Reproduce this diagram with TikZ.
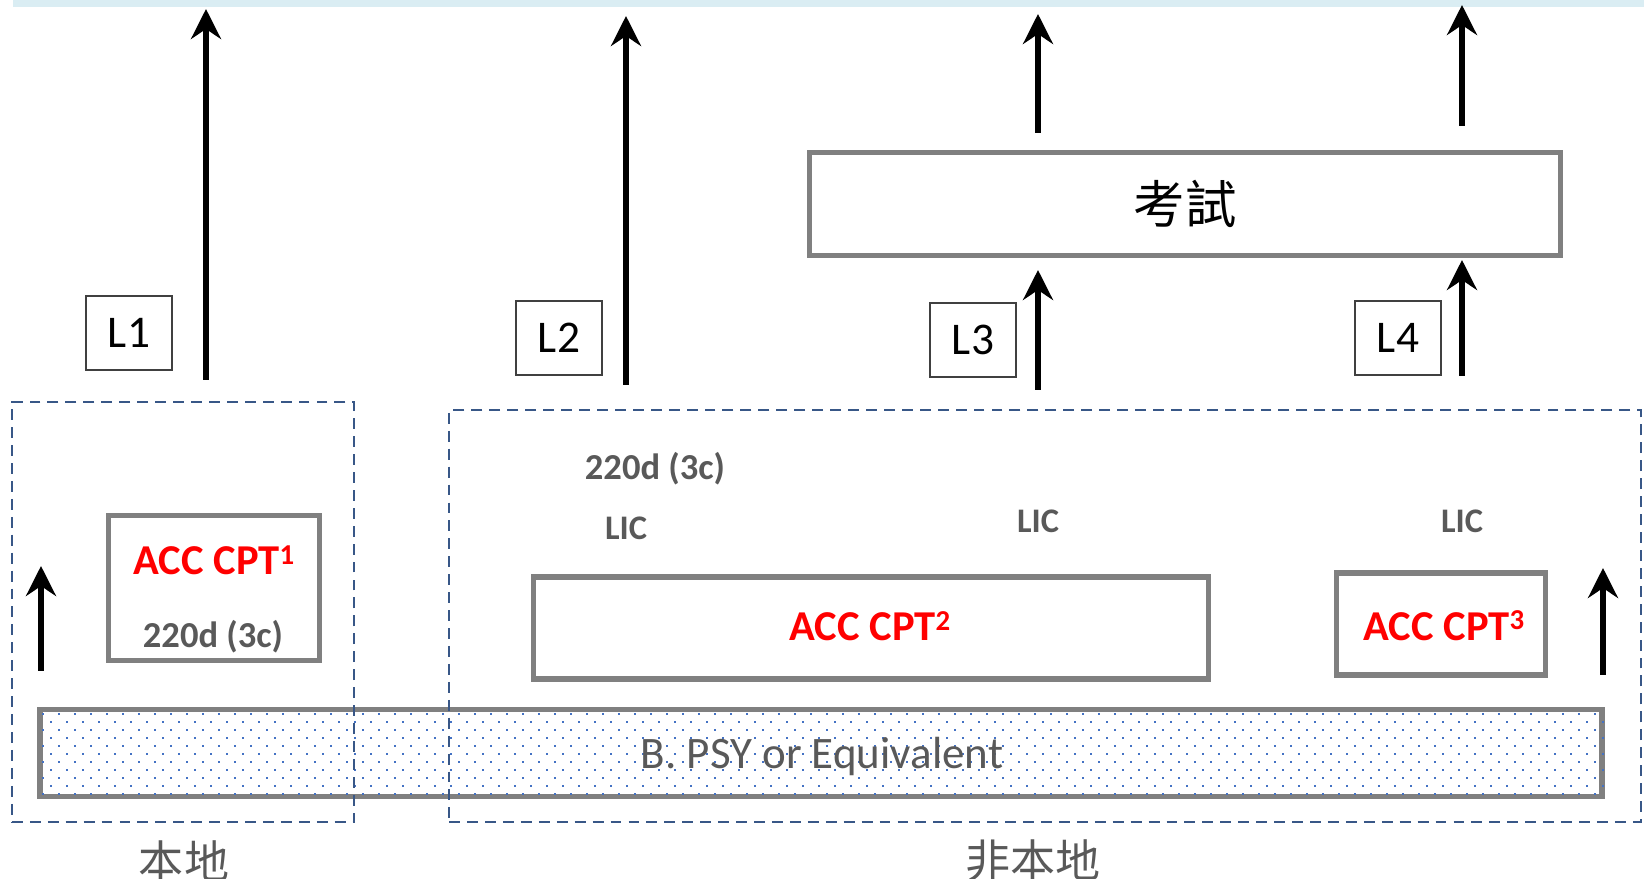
\documentclass[tikz,border=0pt]{standalone}
\usepackage{fontspec}
\setmainfont{Carlito}
\newfontfamily\cjk{Noto Sans CJK TC}
\usetikzlibrary{arrows.meta}
\definecolor{accred}{RGB}{255,0,0}
\definecolor{txtgray}{RGB}{89,89,89}
\definecolor{boxgray}{RGB}{128,128,128}
\definecolor{dashblue}{RGB}{56,87,135}
\definecolor{dotblue}{RGB}{68,114,196}
\definecolor{topcyan}{RGB}{218,237,243}
\newcommand{\cptsup}[1]{\raisebox{3pt}{\fontsize{8.2}{9}\selectfont\bfseries #1}}

\begin{document}
\begin{tikzpicture}[x=0.01cm,y=-0.01cm,>={Stealth[length=8.5pt,width=8.5pt,inset=2.8pt]},
  uparr/.style={->,line width=1.85pt},
  lvlbox/.style={draw=black!75,line width=0.6pt,minimum width=0.86cm,minimum height=0.74cm,inner sep=0pt,font=\fontsize{12.9}{15}\selectfont},
  cptbox/.style={draw=boxgray,line width=1.45pt,inner sep=0pt},
  areabox/.style={draw=dashblue,line width=0.7pt,dash pattern=on 3.1pt off 2pt,inner sep=0pt},
  redtxt/.style={text=accred,anchor=base,inner sep=0pt,font=\fontsize{12.1}{14}\selectfont\bfseries},
  graytxt/.style={text=txtgray,anchor=base,inner sep=0pt,font=\fontsize{10.4}{13}\selectfont\bfseries},
  lictxt/.style={text=txtgray,anchor=base,inner sep=0pt,font=\fontsize{9.8}{12}\selectfont\bfseries},
  cjktxt/.style={text=txtgray,inner sep=0pt,font=\cjk\fontsize{12.8}{15}\selectfont}]

\useasboundingbox (0,0) rectangle (1644,879);
\fill[topcyan] (13,0) rectangle (1644,7);

% base bar with dot pattern
\node[cptbox,minimum width=15.61cm,minimum height=0.87cm] (bar) at (821,753) {};
\begin{scope}
\clip (bar.south west) rectangle (bar.north east);
\foreach \k in {0,...,10}
  \foreach \j in {0,...,98}
    \fill[dotblue] ({42-8*mod(\k,2)+16*\j},{713+8*\k}) rectangle ++(2.2,2.2);
\end{scope}
\node[text=txtgray,anchor=base,inner sep=0pt,font=\fontsize{12.8}{15}\selectfont] (psy) at (822,768) {B. PSY or Equivalent};

% regions
\node[areabox,minimum width=3.42cm,minimum height=4.20cm] (local) at (183,612) {};
\node[areabox,minimum width=11.91cm,minimum height=4.115cm] (nonlocal) at (1045,616) {};
\node[cjktxt] (loclbl) at (184,861) {本地};
\node[cjktxt] (nonloclbl) at (1033,861) {非本地};

% course boxes
\node[cptbox,minimum width=2.10cm,minimum height=1.45cm] (cpt1) at (214,588) {};
\node[redtxt] (cpt1t) at (214,575) {ACC CPT\cptsup{1}};
\node[graytxt] (cpt1d) at (213,647) {220d (3c)};
\node[cptbox,minimum width=6.74cm,minimum height=1.02cm] (cpt2) at (871,628) {};
\node[redtxt] (cpt2t) at (870,641) {ACC CPT\cptsup{2}};
\node[cptbox,minimum width=2.09cm,minimum height=1.02cm] (cpt3) at (1441,624) {};
\node[redtxt] (cpt3t) at (1444,640) {ACC CPT\cptsup{3}};
\node[graytxt] (days2) at (655,480) {220d (3c)};
\node[lictxt] (lic1) at (626,540) {LIC};
\node[lictxt] (lic2) at (1038,533) {LIC};
\node[lictxt] (lic3) at (1462,533) {LIC};

% exam
\node[cptbox,minimum width=7.51cm,minimum height=1.03cm,font=\cjk\fontsize{14.6}{17}\selectfont] (exam) at (1185,204) {考試};

% level labels
\node[lvlbox] (l1) at (129,333) {L1};
\node[lvlbox] (l2) at (559,338) {L2};
\node[lvlbox] (l3) at (973,340) {L3};
\node[lvlbox] (l4) at (1398,338) {L4};

% arrows
\coordinate (a1s) at (206,380); \coordinate (a1e) at (206,9);
\coordinate (a2s) at (626,385); \coordinate (a2e) at (626,16);
\coordinate (a3s) at (1038,390); \coordinate (a3m) at (1038,270);
\coordinate (a3n) at (1038,133); \coordinate (a3e) at (1038,14);
\coordinate (a4s) at (1462,376); \coordinate (a4m) at (1462,260);
\coordinate (a4n) at (1462,126); \coordinate (a4e) at (1462,5);
\coordinate (als) at (41,671); \coordinate (ale) at (41,566);
\coordinate (ars) at (1603,675); \coordinate (are) at (1603,568);
\draw[uparr] (a1s) -- (a1e);
\draw[uparr] (a2s) -- (a2e);
\draw[uparr] (a3s) -- (a3m);
\draw[uparr] (a3n) -- (a3e);
\draw[uparr] (a4s) -- (a4m);
\draw[uparr] (a4n) -- (a4e);
\draw[uparr] (als) -- (ale);
\draw[uparr] (ars) -- (are);
\end{tikzpicture}
\end{document}
